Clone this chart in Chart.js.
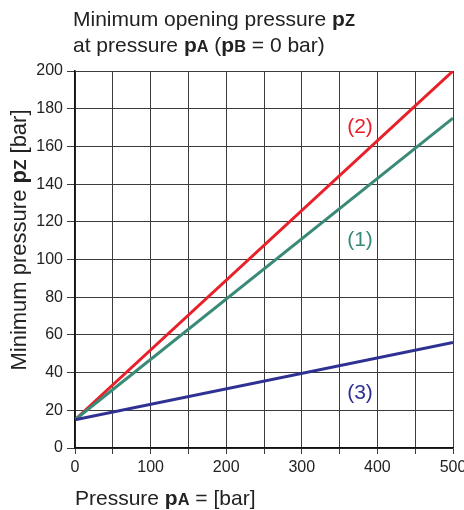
<!DOCTYPE html>
<html>
<head>
<meta charset="utf-8">
<script src="https://cdn.jsdelivr.net/npm/chart.js@4/dist/chart.umd.min.js"></script>
<style>
  html, body { margin: 0; padding: 0; background: #fff; }
  #wrap { width: 464px; height: 510px; }
</style>
</head>
<body>
<div id="wrap"><canvas id="chart" width="464" height="510"></canvas></div>
<script>
// valori (pA in bar -> pZ in bar)
const pressureA = [0, 500];
const curve1 = [15, 175];
const curve2 = [15, 200];
const curve3 = [15, 56];
const curveNames = ['(1)', '(2)', '(3)'];
// dove stanno le etichette delle curve, in unità dei dati
const nameX = [377, 377, 377];
const nameY = [110, 170, 29];

const FONT = '"Liberation Sans", Arial, sans-serif';
const colors = ['#3a8a78', '#e8202a', '#2e3192'];

const toPoints = ys => pressureA.map((x, i) => ({ x, y: ys[i] }));

// testo con pezzi in grassetto (p + pedice)
function richText(ctx, parts, x, y, size) {
  let cx = x;
  for (const p of parts) {
    const s = p.small ? size * 0.78 : size;
    ctx.font = `${p.bold ? 'bold ' : ''}${s}px ${FONT}`;
    ctx.fillText(p.t, cx, y);
    cx += ctx.measureText(p.t).width;
  }
  return cx - x;
}
function measureRich(ctx, parts, size) {
  let w = 0;
  for (const p of parts) {
    const s = p.small ? size * 0.78 : size;
    ctx.font = `${p.bold ? 'bold ' : ''}${s}px ${FONT}`;
    w += ctx.measureText(p.t).width;
  }
  return w;
}

const textPlugin = {
  id: 'testi',
  afterDraw(chart) {
    const ctx = chart.ctx;
    const { x: xs, y: ys } = chart.scales;
    ctx.save();
    ctx.fillStyle = '#222';
    ctx.textBaseline = 'alphabetic';
    ctx.textAlign = 'left';

    richText(ctx, [
      { t: 'Minimum opening pressure ' },
      { t: 'p', bold: true }, { t: 'Z', bold: true, small: true }
    ], 73, 26, 21);
    richText(ctx, [
      { t: 'at pressure ' },
      { t: 'p', bold: true }, { t: 'A', bold: true, small: true },
      { t: ' (' },
      { t: 'p', bold: true }, { t: 'B', bold: true, small: true },
      { t: ' = 0 bar)' }
    ], 73, 52, 21);

    richText(ctx, [
      { t: 'Pressure ' },
      { t: 'p', bold: true }, { t: 'A', bold: true, small: true },
      { t: ' = [bar]' }
    ], 75, 505, 21);

    const yTitle = [
      { t: 'Minimum pressure ' },
      { t: 'p', bold: true }, { t: 'Z', bold: true, small: true },
      { t: ' [bar]' }
    ];
    const w = measureRich(ctx, yTitle, 22);
    ctx.translate(26, 240);
    ctx.rotate(-Math.PI / 2);
    richText(ctx, yTitle, -w / 2, 0, 22);
    ctx.setTransform(chart.currentDevicePixelRatio, 0, 0, chart.currentDevicePixelRatio, 0, 0);

    ctx.textAlign = 'center';
    ctx.textBaseline = 'middle';
    ctx.font = `21px ${FONT}`;
    curveNames.forEach((n, i) => {
      ctx.fillStyle = colors[i];
      ctx.fillText(n, xs.getPixelForValue(nameX[i]), ys.getPixelForValue(nameY[i]));
    });
    ctx.restore();
  }
};

const gridColor = '#3c3c3c';

new Chart(document.getElementById('chart'), {
  type: 'line',
  data: {
    datasets: [
      { label: curveNames[2], data: toPoints(curve3), borderColor: colors[2] },
      { label: curveNames[0], data: toPoints(curve1), borderColor: colors[0] },
      { label: curveNames[1], data: toPoints(curve2), borderColor: colors[1] }
    ]
  },
  options: {
    responsive: false,
    animation: false,
    devicePixelRatio: 1,
    layout: { padding: { left: 0, right: 11, top: 71, bottom: 0 } },
    elements: {
      point: { radius: 0 },
      line: { borderWidth: 3, tension: 0 }
    },
    plugins: { legend: { display: false }, tooltip: { enabled: false } },
    scales: {
      x: {
        type: 'linear', min: 0, max: 500,
        ticks: {
          stepSize: 50, color: '#222', padding: 4,
          font: { family: FONT, size: 16 },
          callback: v => (v % 100 === 0 ? v : '')
        },
        grid: { color: gridColor, lineWidth: 1, tickLength: 6 },
        border: { color: '#111', width: 1.5 },
        afterFit(s) { s.height = 62; s.paddingLeft = 0; s.paddingRight = 0; }
      },
      y: {
        min: 0, max: 200,
        ticks: {
          stepSize: 20, color: '#222', padding: 4,
          font: { family: FONT, size: 16 }
        },
        grid: { color: gridColor, lineWidth: 1, tickLength: 8 },
        border: { color: '#111', width: 1.5 },
        afterFit(s) { s.width = 75; s.paddingTop = 0; s.paddingBottom = 0; }
      }
    }
  },
  plugins: [textPlugin]
});
</script>
</body>
</html>
